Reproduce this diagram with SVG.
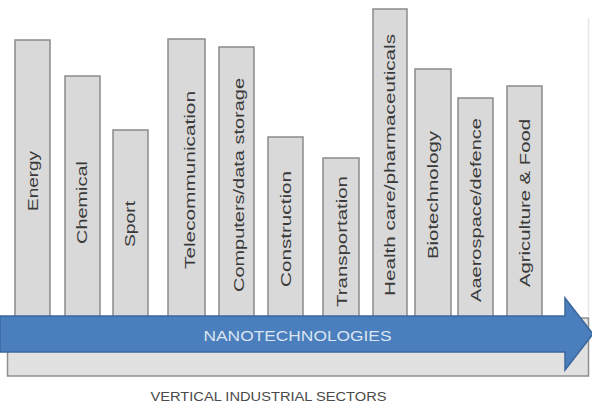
<svg xmlns="http://www.w3.org/2000/svg" width="592" height="409" viewBox="0 0 592 409">
<style>
.bar{fill:#d9d9d9;stroke:#8a8a8a;stroke-width:1.5}
.lbl{font-family:"Liberation Sans",Arial,sans-serif;font-size:14.5px;fill:#3a3a3a;dominant-baseline:central}
.cap{font-family:"Liberation Sans",Arial,sans-serif;font-size:12px;fill:#4a4a4a}
.nano{font-family:"Liberation Sans",Arial,sans-serif;font-size:14px;fill:#dbe5f3}
</style>
<rect width="592" height="409" fill="#ffffff"/>
<line x1="588.5" y1="18" x2="588.5" y2="316" stroke="#e6e6e6" stroke-width="1.5"/>
<g id="base">
<rect x="7.5" y="318" width="581" height="58" fill="#e1e1e1" stroke="#8f8f8f" stroke-width="1.5"/>
</g>
<g id="energy"><rect class="bar" x="15" y="40" width="35" height="278"/><text class="lbl" transform="translate(33,211) rotate(-90)" textLength="60" lengthAdjust="spacingAndGlyphs">Energy</text></g>
<g id="chemical"><rect class="bar" x="65" y="76" width="35" height="242"/><text class="lbl" transform="translate(82,244) rotate(-90)" textLength="83" lengthAdjust="spacingAndGlyphs">Chemical</text></g>
<g id="sport"><rect class="bar" x="113" y="130" width="35" height="188"/><text class="lbl" transform="translate(130,247) rotate(-90)" textLength="46" lengthAdjust="spacingAndGlyphs">Sport</text></g>
<g id="telecom"><rect class="bar" x="168" y="39" width="37" height="279"/><text class="lbl" transform="translate(190,269) rotate(-90)" textLength="178" lengthAdjust="spacingAndGlyphs">Telecommunication</text></g>
<g id="computers"><rect class="bar" x="219" y="47" width="35" height="271"/><text class="lbl" transform="translate(239,292) rotate(-90)" textLength="214" lengthAdjust="spacingAndGlyphs">Computers/data storage</text></g>
<g id="construction"><rect class="bar" x="268" y="137" width="35" height="181"/><text class="lbl" transform="translate(286,287) rotate(-90)" textLength="116" lengthAdjust="spacingAndGlyphs">Construction</text></g>
<g id="transportation"><rect class="bar" x="323" y="158" width="36" height="160"/><text class="lbl" transform="translate(341.5,307) rotate(-90)" textLength="131" lengthAdjust="spacingAndGlyphs">Transportation</text></g>
<g id="healthcare"><rect class="bar" x="373" y="9" width="34" height="309"/><text class="lbl" transform="translate(390,296) rotate(-90)" textLength="262" lengthAdjust="spacingAndGlyphs">Health care/pharmaceuticals</text></g>
<g id="biotechnology"><rect class="bar" x="415" y="69" width="36" height="249"/><text class="lbl" transform="translate(433,259) rotate(-90)" textLength="128" lengthAdjust="spacingAndGlyphs">Biotechnology</text></g>
<g id="aerospace"><rect class="bar" x="458" y="98" width="35" height="220"/><text class="lbl" transform="translate(476,302) rotate(-90)" textLength="184" lengthAdjust="spacingAndGlyphs">Aaerospace/defence</text></g>
<g id="agriculture"><rect class="bar" x="507" y="86" width="35" height="232"/><text class="lbl" transform="translate(525,287) rotate(-90)" textLength="168" lengthAdjust="spacingAndGlyphs">Agriculture &amp; Food</text></g>
<g id="connectors">
<g id="nanotech-arrow">
<path d="M0,316 L565,316 L565,298 L593,334 L565,370 L565,352 L0,352 Z" fill="#4a7ebc" stroke="#3b679c" stroke-width="1.5"/>
<text class="nano" x="297.5" y="341" text-anchor="middle" textLength="188" lengthAdjust="spacingAndGlyphs">NANOTECHNOLOGIES</text>
</g>
</g>
<text class="cap" x="268.5" y="401" text-anchor="middle" textLength="236" lengthAdjust="spacingAndGlyphs">VERTICAL INDUSTRIAL SECTORS</text>
</svg>
